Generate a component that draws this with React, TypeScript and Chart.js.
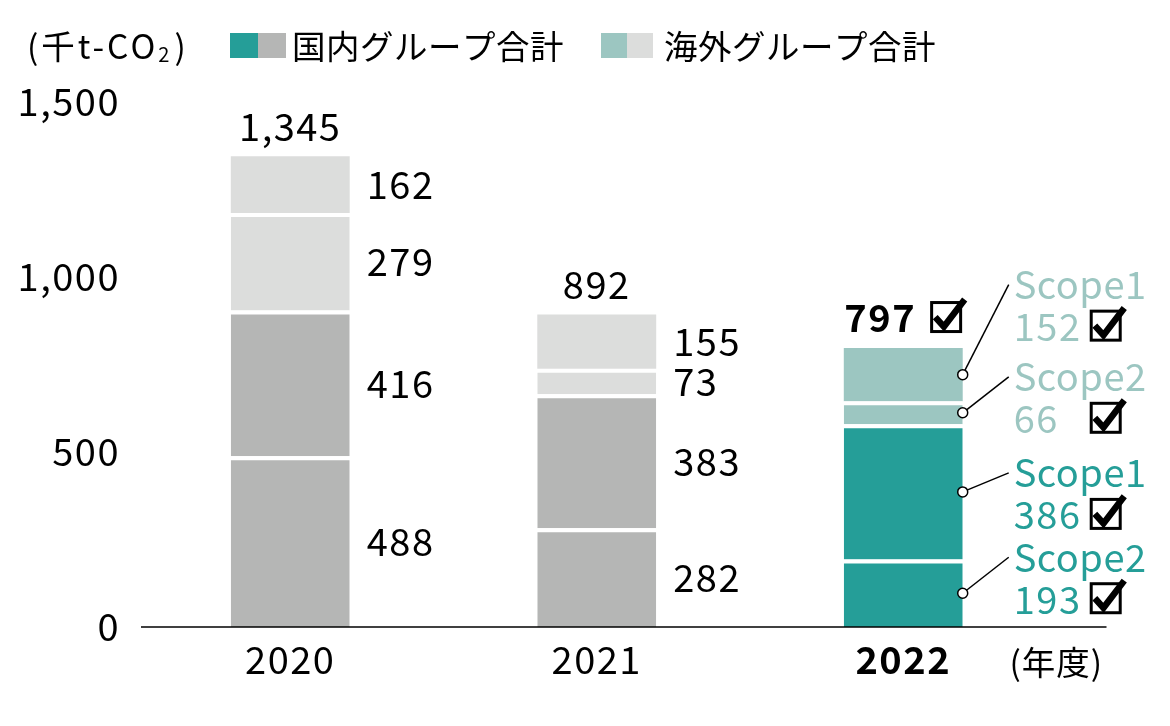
import React, { useEffect, useRef } from 'react';
import { Chart, registerables } from 'chart.js';

Chart.register(...registerables);

// ---- data ----
const years = ['2020', '2021', '2022'];
const domesticScope2 = [488, 282, 193];
const domesticScope1 = [416, 383, 386];
const overseasScope2 = [279, 73, 66];
const overseasScope1 = [162, 155, 152];
const totals = [1345, 892, 797];
const yTickValues = [0, 500, 1000, 1500];
const highlightIndex = 2;
const calloutNames = ['Scope2', 'Scope1', 'Scope2', 'Scope1']; // per dataset (bottom -> top)

const unitText = '(千t-CO';
const unitSub = '2';
const xUnitText = '(年度)';
const legendDomestic = '国内グループ合計';
const legendOverseas = '海外グループ合計';

// ---- styles ----
const TEAL = '#259e98';
const TEAL_LIGHT = '#9cc6c1';
const GRAY = '#b5b6b5';
const GRAY_LIGHT = '#dcdddc';
const FONT = "'Noto Sans CJK JP', 'Noto Sans', sans-serif";
const W = '400';
const NUM_SIZE = 38;
const JP_SIZE = 33.5;
const calloutOffsets = [-36, -19, -36, -90]; // label y offset from segment middle, per dataset
const seriesValues = [domesticScope2, domesticScope1, overseasScope2, overseasScope1];

function drawCheckbox(ctx: CanvasRenderingContext2D, x: number, cy: number, size: number) {
  const y = cy - size / 2;
  ctx.save();
  ctx.strokeStyle = '#000';
  ctx.lineWidth = 3;
  ctx.strokeRect(x + 1.5, y + 1.5, size - 3, size - 3);
  ctx.lineWidth = 6.5;
  ctx.lineJoin = 'miter';
  ctx.lineCap = 'butt';
  ctx.beginPath();
  ctx.moveTo(x + size * 0.16, y + size * 0.5);
  ctx.lineTo(x + size * 0.43, y + size * 0.8);
  ctx.lineTo(x + size * 1.08, y - size * 0.05);
  ctx.stroke();
  ctx.restore();
}

const spacingPlugin = {
  id: 'spacing',
  beforeDraw(chart: any) {
    (chart.ctx as any).letterSpacing = '1.5px';
  },
};

const annotationPlugin = {
  id: 'annotations',
  afterDatasetsDraw(chart: any) {
    const ctx: any = chart.ctx;
    const yScale = chart.scales.y;
    const area = chart.chartArea;
    ctx.save();

    // axis line
    ctx.strokeStyle = '#000';
    ctx.lineWidth = 1.5;
    ctx.beginPath();
    ctx.moveTo(area.left + 4, yScale.getPixelForValue(0));
    ctx.lineTo(area.right + 50, yScale.getPixelForValue(0));
    ctx.stroke();

    // x unit
    ctx.letterSpacing = '1px';
    ctx.fillStyle = '#000';
    ctx.font = `${W} ${JP_SIZE}px ${FONT}`;
    ctx.textAlign = 'left';
    ctx.textBaseline = 'middle';
    ctx.fillText(xUnitText, area.right - 47, yScale.getPixelForValue(0) + 35);

    // title / unit
    ctx.letterSpacing = '3px';
    ctx.font = `${W} ${JP_SIZE}px ${FONT}`;
    ctx.fillText(unitText, 27, 46);
    const w = ctx.measureText(unitText).width;
    ctx.font = `${W} ${JP_SIZE * 0.6}px ${FONT}`;
    ctx.fillText(unitSub, 27 + w, 54);
    const ws = ctx.measureText(unitSub).width;
    ctx.font = `${W} ${JP_SIZE}px ${FONT}`;
    ctx.fillText(')', 27 + w + ws + 2, 46);

    // legend
    ctx.letterSpacing = '0.5px';
    ctx.fillStyle = TEAL;
    ctx.fillRect(230, 33, 28, 25);
    ctx.fillStyle = GRAY;
    ctx.fillRect(258, 33, 28, 25);
    ctx.fillStyle = '#000';
    ctx.fillText(legendDomestic, 292, 46);
    ctx.fillStyle = TEAL_LIGHT;
    ctx.fillRect(601, 33, 26, 25);
    ctx.fillStyle = GRAY_LIGHT;
    ctx.fillRect(627, 33, 26, 25);
    ctx.fillStyle = '#000';
    ctx.fillText(legendOverseas, 664, 46);

    ctx.letterSpacing = '1.5px';
    years.forEach((_, i) => {
      const bar = chart.getDatasetMeta(0).data[i].getProps(['x', 'width'], true);
      const right = bar.x + bar.width / 2;
      // total
      const topY = yScale.getPixelForValue(totals[i]) - 30;
      if (i === highlightIndex) {
        ctx.font = `bold ${NUM_SIZE}px ${FONT}`;
        const label = totals[i].toLocaleString('en-US');
        const tw = ctx.measureText(label).width;
        const group = tw + 14 + 32;
        const sx = bar.x - group / 2;
        ctx.fillStyle = '#000';
        ctx.textAlign = 'left';
        ctx.fillText(label, sx, topY);
        drawCheckbox(ctx, sx + tw + 14, topY - 1, 32);
      } else {
        ctx.font = `${W} ${NUM_SIZE}px ${FONT}`;
        ctx.fillStyle = '#000';
        ctx.textAlign = 'center';
        ctx.fillText(totals[i].toLocaleString('en-US'), bar.x, topY);
      }

      let cum = 0;
      seriesValues.forEach((series, d) => {
        const v = series[i];
        const mid = yScale.getPixelForValue(cum + v / 2);
        cum += v;
        ctx.font = `${W} ${NUM_SIZE}px ${FONT}`;
        ctx.textAlign = 'left';
        if (i !== highlightIndex) {
          ctx.fillStyle = '#000';
          ctx.fillText(String(v), right + 17, mid);
        } else {
          const color = d < 2 ? TEAL : TEAL_LIGHT;
          const ly = mid + calloutOffsets[d];
          ctx.strokeStyle = '#000';
          ctx.lineWidth = 1.5;
          ctx.beginPath();
          ctx.moveTo(right, mid);
          ctx.lineTo(right + 46, ly);
          ctx.stroke();
          ctx.beginPath();
          ctx.arc(right, mid, 5, 0, Math.PI * 2);
          ctx.fillStyle = '#fff';
          ctx.fill();
          ctx.stroke();
          ctx.fillStyle = color;
          ctx.letterSpacing = '0.5px';
          ctx.fillText(calloutNames[d], right + 51, ly);
          ctx.letterSpacing = '1.5px';
          ctx.fillText(String(v), right + 51, ly + 42);
          drawCheckbox(ctx, right + 127, ly + 41, 32);
        }
      });
    });
    ctx.restore();
  },
};

export default function App() {
  const ref = useRef<HTMLCanvasElement>(null);
  useEffect(() => {
    document.body.style.margin = '0';
    const colorFor = (base: string, hi: string) => years.map((_, i) => (i === highlightIndex ? hi : base));
    const border = (d: number) => (d < 3 ? { top: 4, bottom: 0, left: 0, right: 0 } : 0);
    const chart = new Chart(ref.current!, {
      type: 'bar',
      data: {
        labels: years,
        datasets: [
          { label: '国内Scope2', data: domesticScope2, backgroundColor: colorFor(GRAY, TEAL), borderColor: '#fff', borderWidth: border(0), borderSkipped: false },
          { label: '国内Scope1', data: domesticScope1, backgroundColor: colorFor(GRAY, TEAL), borderColor: '#fff', borderWidth: border(1), borderSkipped: false },
          { label: '海外Scope2', data: overseasScope2, backgroundColor: colorFor(GRAY_LIGHT, TEAL_LIGHT), borderColor: '#fff', borderWidth: border(2), borderSkipped: false },
          { label: '海外Scope1', data: overseasScope1, backgroundColor: colorFor(GRAY_LIGHT, TEAL_LIGHT), borderColor: '#fff', borderWidth: border(3), borderSkipped: false },
        ] as any,
      },
      options: {
        responsive: false,
        animation: false,
        devicePixelRatio: 1,
        layout: { padding: { top: 102, right: 113.5, left: 0, bottom: 0 } },
        datasets: { bar: { categoryPercentage: 1, barPercentage: 0.388 } },
        plugins: { legend: { display: false }, tooltip: { enabled: false } },
        scales: {
          x: {
            stacked: true,
            grid: { display: false, drawTicks: false },
            border: { display: false },
            ticks: {
              padding: 10,
              color: '#000',
              font: (c: any) => ({ family: FONT, size: NUM_SIZE, weight: c.index === highlightIndex ? 'bold' : W }),
            },
            afterFit: (s: any) => { s.height = 99; },
          },
          y: {
            stacked: true,
            min: 0,
            max: 1500,
            grid: { display: false, drawTicks: false },
            border: { display: false },
            afterBuildTicks: (s: any) => { s.ticks = yTickValues.map((v) => ({ value: v })); },
            ticks: {
              padding: 17,
              color: '#000',
              font: { family: FONT, size: NUM_SIZE, weight: W },
              callback: (v: any) => Number(v).toLocaleString('en-US'),
            },
            afterFit: (s: any) => { s.width = 137; },
          },
        },
      } as any,
      plugins: [spacingPlugin, annotationPlugin],
    });
    document.fonts?.ready.then(() => chart.update());
    return () => chart.destroy();
  }, []);
  return (
    <div style={{ position: 'absolute', left: 0, top: 0, width: 1170, height: 726 }}>
      <canvas ref={ref} width={1170} height={726} style={{ width: 1170, height: 726 }} />
    </div>
  );
}
